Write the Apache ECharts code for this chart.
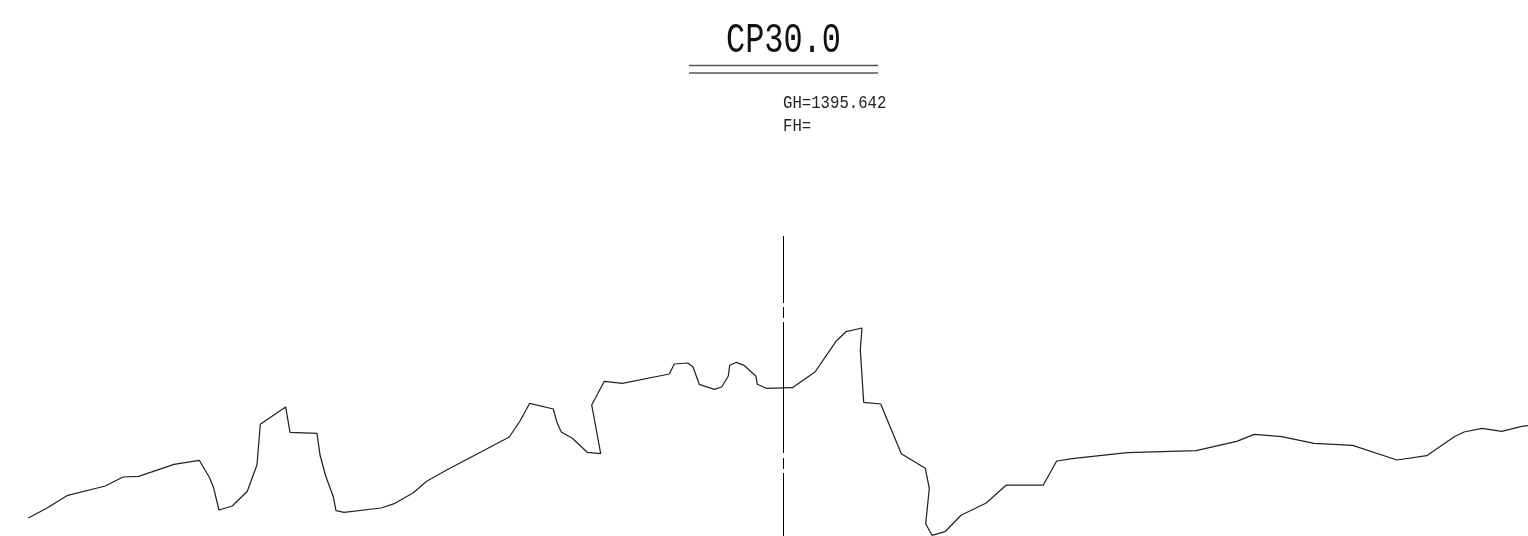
<!DOCTYPE html>
<html>
<head>
<meta charset="utf-8">
<title>CP30.0</title>
<script src="https://cdn.jsdelivr.net/npm/echarts@6/dist/echarts.min.js"></script>
<style>
  html, body { margin: 0; padding: 0; background: #fff; }
  #main { width: 1528px; height: 536px; }
</style>
</head>
<body>
<div id="main"></div>
<script>
// values, the sheet has no scale so x/y are sheet units
var sectionName = 'CP30.0';
var groundLabel = 'GH=1395.642';
var finishLabel = 'FH=';

var stations = [28.3, 46.7, 67.7, 105.3, 123, 138.7, 174, 199.3, 209.3, 213.3, 219, 232.3, 247.3, 257, 260.3,
  285.7, 290, 317, 320, 325.7, 333.3, 336, 344, 381, 395, 413.3, 426.7, 446.7, 509.3, 520, 529.7, 553.3,
  557.3, 561.3, 572.3, 587.3, 600.7, 591.7, 604.3, 622.3, 669.3, 674.3, 687.7, 693, 699.3, 714.3, 721.7,
  728.3, 729.7, 736.3, 744, 756, 757.3, 766.3, 792.3, 815, 836, 846, 862, 860.3, 863.7, 880.7, 901.3,
  925.3, 929.3, 925.7, 932, 945, 961, 986.3, 1006.3, 1043.3, 1056.7, 1074.3, 1127.3, 1196, 1236.7, 1254.3,
  1281.7, 1314, 1352.7, 1397, 1426.7, 1454.3, 1464, 1482, 1501.7, 1521.7, 1528];
var levels = [518, 508.3, 495.3, 486, 477, 476.3, 464.3, 460.3, 477.3, 486.7, 510, 506, 491.3, 464.7, 424.3,
  407, 432.3, 433.3, 455, 476, 496.7, 510.7, 512.3, 508, 503.3, 492.7, 481.3, 470, 437, 421, 403.3, 409,
  423.3, 432, 438.3, 452.3, 453.7, 405, 381.3, 383.3, 374, 364, 363, 367, 384.3, 389.3, 387,
  376, 365.3, 362.3, 365.3, 376.3, 384.3, 388.3, 387.7, 372, 341.3, 331.7, 328, 350, 402.3, 404, 453.7,
  468.3, 488.3, 523.7, 535.3, 531.7, 515.3, 503, 485, 485, 461, 458.3, 452.7, 450.7, 441.3, 434.3,
  436.7, 443.3, 445.3, 460, 455.7, 436.7, 432, 428.3, 431.3, 426.3, 425.7];

// centre line with its two short dashes
var centreStation = 783.5;
var centreBreaks = [[236, 303], [307, 318], [322, 453], [458, 469], [473, 536]];

// double rule below the name
var ruleStations = [689, 878];
var ruleLevels = [65.5, 73];

var profile = stations.map(function (s, i) {
  return [s, levels[i]];
});

var centreLine = [];
centreBreaks.forEach(function (b) {
  centreLine.push([centreStation, b[0]], [centreStation, b[1]], [centreStation, '-']);
});

var rules = [];
ruleLevels.forEach(function (l) {
  rules.push([ruleStations[0], l], [ruleStations[1], l], [ruleStations[0], '-']);
});

// the drawing uses a narrow fixed pitch font, squeeze the mono one to get there
function squeezedText(text, x, y, size, scale, color) {
  return {
    type: 'text',
    x: x,
    y: y,
    scaleX: scale,
    silent: true,
    style: {
      text: text,
      fontFamily: '"Liberation Mono", monospace',
      fontSize: size,
      fill: color,
      textVerticalAlign: 'top',
    },
  };
}

var chart = echarts.init(document.getElementById('main'));
chart.setOption({
  animation: false,
  backgroundColor: '#fff',
  graphic: [
    squeezedText(sectionName, 726, 20, 42, 0.76, '#111'),
    squeezedText(groundLabel, 783, 94, 18, 0.87, '#222'),
    squeezedText(finishLabel, 783, 117, 18, 0.87, '#222'),
  ],
  grid: { left: 0, right: 0, top: 0, bottom: 0 },
  xAxis: { type: 'value', min: 0, max: 1528, show: false },
  yAxis: { type: 'value', min: 0, max: 536, inverse: true, show: false },
  series: [
    {
      type: 'line',
      data: profile,
      symbol: 'none',
      silent: true,
      lineStyle: { color: '#222', width: 1.25 },
    },
    {
      type: 'line',
      data: centreLine,
      symbol: 'none',
      silent: true,
      lineStyle: { color: '#000', width: 1 },
    },
    {
      type: 'line',
      data: rules,
      symbol: 'none',
      silent: true,
      lineStyle: { color: '#555', width: 1.4 },
    },
  ],
});
</script>
</body>
</html>
